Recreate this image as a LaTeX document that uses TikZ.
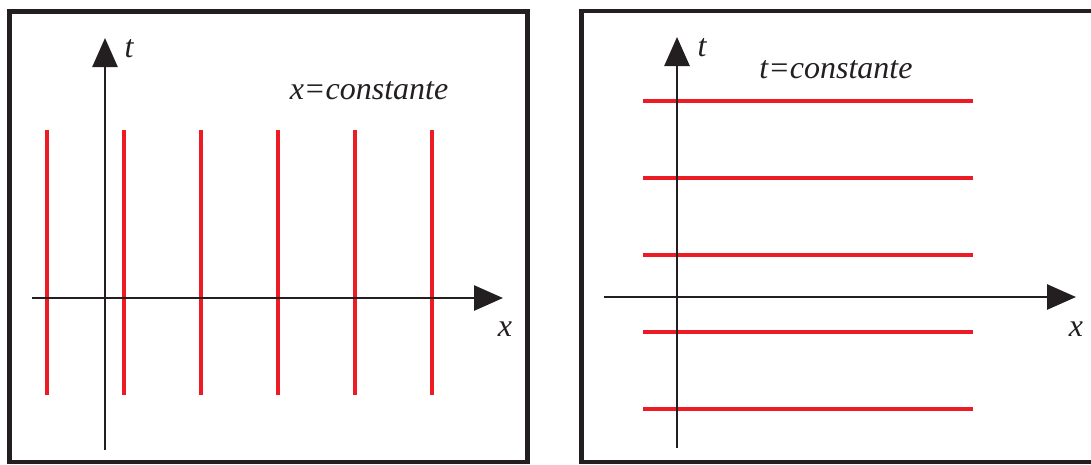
\documentclass[tikz,border=0pt]{standalone}
\usepackage{fontspec}
\setmainfont{Liberation Serif}
\usetikzlibrary{arrows.meta}
\definecolor{rojo}{RGB}{237,28,36}
\definecolor{negro}{RGB}{35,31,32}
\tikzset{
  eje/.style={draw=negro,line width=2pt,-{Triangle[length=21.75pt,width=18.75pt]}},
  marco/.style={draw=negro,line width=3.6pt},
  curva/.style={draw=rojo,line width=3pt},
  rotulo/.style={font=\itshape\fontsize{24}{28}\selectfont,text=negro}
}
\begin{document}
\begin{tikzpicture}[x=0.75pt,y=-0.75pt]
                \useasboundingbox (0,0) rectangle (1091,464);
                \clip (0,0) rectangle (1091,464);
                % x = constante
                \draw[marco] (9.5,11.5) rectangle (527.5,462);
                \foreach \u in {47,124,201,278,355,432}
                    \draw[curva] (\u,130) -- (\u,395);
                \coordinate (tA) at (105,450);
                \coordinate (tB) at (105,38);
                \coordinate (xA) at (32,298);
                \coordinate (xB) at (503,298);
                \draw[eje] (tA) -- (tB);
                \draw[eje] (xA) -- (xB);
                \node[rotulo] (lt1) at (129,49) {t};
                \node[rotulo] (lx1) at (505,329) {x};
                \node[rotulo] (lc1) at (369,91) {x=constante};
                % t = constante
                \draw[marco] (581.5,11) rectangle (1100,462);
                \foreach \v in {101,178,255,332,409}
                    \draw[curva] (643,\v) -- (973,\v);
                \coordinate (tC) at (677,448);
                \coordinate (tD) at (677,37);
                \coordinate (xC) at (604,297);
                \coordinate (xD) at (1076,297);
                \draw[eje] (tC) -- (tD);
                \draw[eje] (xC) -- (xD);
                \node[rotulo] (lt2) at (702,48) {t};
                \node[rotulo] (lx2) at (1076,329) {x};
                \node[rotulo] (lc2) at (836,70) {t=constante};
            \end{tikzpicture}
\end{document}
